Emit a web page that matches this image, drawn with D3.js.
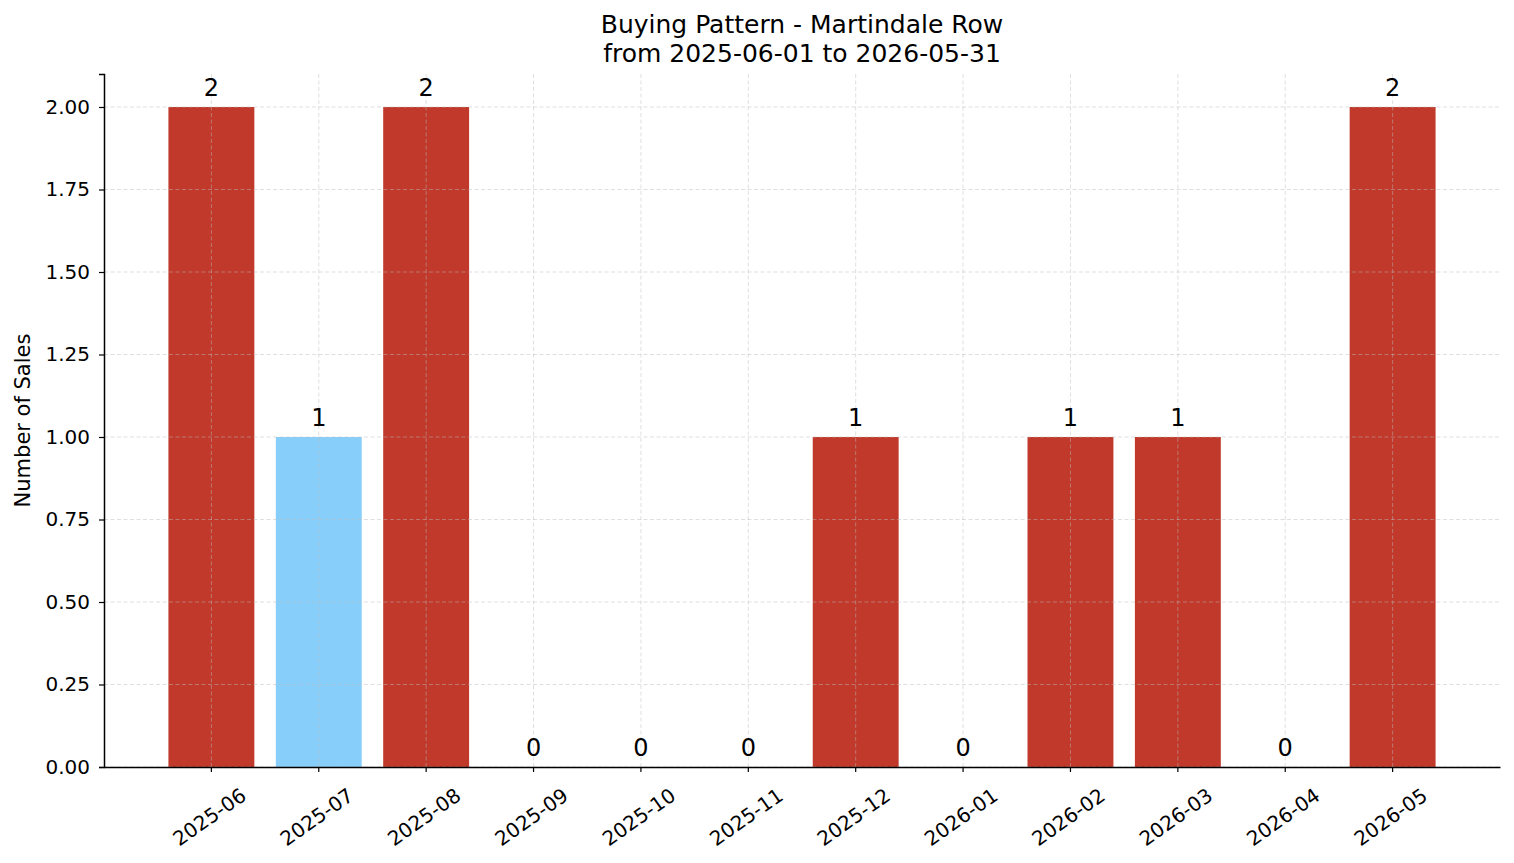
<!DOCTYPE html>
<html lang="en">
<head>
  <meta charset="UTF-8">
  <title>Buying Pattern - Martindale Row</title>
  <script src="https://d3js.org/d3.v7.min.js"></script>
  <style>
    body { margin: 0; padding: 0; overflow: hidden; background: #fff; }
    text { font-family: "DejaVu Sans", sans-serif; fill: #000; }
  </style>
</head>
<body>
  <svg id="chart"></svg>

  <script>
    const months = ["2025-06", "2025-07", "2025-08", "2025-09", "2025-10", "2025-11",
                    "2025-12", "2026-01", "2026-02", "2026-03", "2026-04", "2026-05"];
    const sales = [2, 1, 2, 0, 0, 0, 1, 0, 1, 1, 0, 2];
    const highlighted = ["2025-07"];
    const yTicks = [0, 0.25, 0.5, 0.75, 1.0, 1.25, 1.5, 1.75, 2.0];

    const width = 1514, height = 863;
    const margin = { top: 74, right: 14, bottom: 96, left: 104 };

    const svg = d3.select("#chart")
      .attr("width", width)
      .attr("height", height);

    const x = d3.scaleBand()
      .domain(months)
      .range([margin.left, width - margin.right])
      .paddingInner(0.2)
      .paddingOuter(0.6);

    const y = d3.scaleLinear()
      .domain([0, 2.1])
      .range([height - margin.bottom, margin.top]);

    // bars
    svg.append("g")
      .selectAll("rect")
      .data(months)
      .enter()
      .append("rect")
      .attr("x", d => x(d))
      .attr("width", x.bandwidth())
      .attr("y", (d, i) => y(sales[i]))
      .attr("height", (d, i) => y(0) - y(sales[i]))
      .attr("fill", d => highlighted.includes(d) ? "#87cefa" : "#c0392b");

    // grid (drawn over the bars, like matplotlib)
    const grid = svg.append("g")
      .attr("stroke", "#bbb")
      .attr("stroke-opacity", 0.6)
      .attr("stroke-width", 0.8)
      .attr("stroke-dasharray", "4,2.5");

    grid.selectAll(".hgrid")
      .data(yTicks)
      .enter()
      .append("line")
      .attr("x1", margin.left)
      .attr("x2", width - margin.right)
      .attr("y1", d => y(d))
      .attr("y2", d => y(d));

    grid.selectAll(".vgrid")
      .data(months)
      .enter()
      .append("line")
      .attr("x1", d => x(d) + x.bandwidth() / 2)
      .attr("x2", d => x(d) + x.bandwidth() / 2)
      .attr("y1", y(0))
      .attr("y2", margin.top);

    // value labels
    svg.append("g")
      .selectAll("text")
      .data(months)
      .enter()
      .append("text")
      .attr("x", d => x(d) + x.bandwidth() / 2)
      .attr("y", (d, i) => y(sales[i]) - 11)
      .attr("text-anchor", "middle")
      .attr("font-size", "24px")
      .text((d, i) => sales[i]);

    // y axis
    const yAxis = svg.append("g")
      .attr("transform", `translate(${margin.left},0)`)
      .call(d3.axisLeft(y).tickValues(yTicks).tickFormat(d3.format(".2f")).tickSize(5).tickPadding(9));
    yAxis.select(".domain").attr("stroke", "#000").attr("stroke-width", 1.5);
    yAxis.selectAll(".tick line").attr("stroke", "#000").attr("stroke-width", 1.2);
    yAxis.selectAll(".tick text").attr("font-size", "20px").attr("font-family", "DejaVu Sans");

    // x axis
    const xAxis = svg.append("g")
      .attr("transform", `translate(0,${y(0)})`)
      .call(d3.axisBottom(x).tickSize(5).tickSizeOuter(0));
    xAxis.select(".domain").attr("stroke", "#000").attr("stroke-width", 1.5);
    xAxis.selectAll(".tick line").attr("stroke", "#000").attr("stroke-width", 1.2);
    xAxis.selectAll(".tick text")
      .attr("font-size", "20px")
      .attr("font-family", "DejaVu Sans")
      .attr("text-anchor", "middle")
      .attr("dominant-baseline", "central")
      .attr("y", 0)
      .attr("dy", 0)
      .attr("transform", "translate(-2,50) rotate(-35)");

    // y label
    svg.append("text")
      .attr("transform", `translate(23,${(y(0) + y(2.1)) / 2}) rotate(-90)`)
      .attr("text-anchor", "middle")
      .attr("dominant-baseline", "central")
      .attr("font-size", "21px")
      .text("Number of Sales");

    // title
    const cx = (margin.left + width - margin.right) / 2;
    const title = svg.append("text")
      .attr("text-anchor", "middle")
      .attr("font-size", "25px");
    title.append("tspan").attr("x", cx).attr("y", 33)
      .text("Buying Pattern - Martindale Row");
    title.append("tspan").attr("x", cx).attr("y", 62)
      .text("from 2025-06-01 to 2026-05-31");
  </script>
</body>
</html>
